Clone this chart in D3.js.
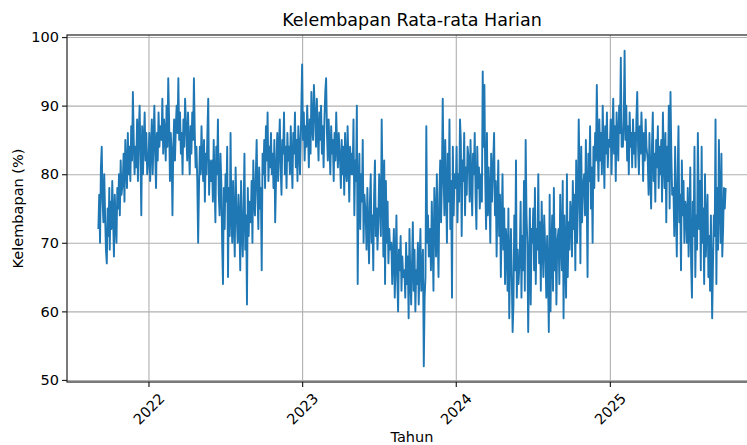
<!DOCTYPE html>
<html>
<head>
<meta charset="utf-8">
<script src="https://cdn.jsdelivr.net/npm/d3@7"></script>
<style>
body { margin: 0; background: #fff; }
svg text { font-family: "DejaVu Sans", sans-serif; fill: #000; }
</style>
</head>
<body>
<div id="chart"></div>
<script>
//-----------------------------Data
// daily humidity (%), one value every second day, one row per month
var h2021 = [
    [72, 77, 70, 81, 84, 76, 73, 80, 74, 69, 67, 75, 71, 78],          // Sep (from the 4th)
    [69, 76, 72, 79, 74, 68, 77, 73, 70, 78, 75, 80, 74, 82, 77],
    [79, 83, 76, 85, 81, 78, 86, 80, 84, 79, 87, 82, 92, 85, 80],
    [84, 81, 88, 79, 86, 90, 83, 74, 87, 80, 85, 89, 82, 86, 80]
];
var h2022 = [
    [82, 86, 79, 84, 88, 80, 85, 90, 83, 78, 86, 82, 89, 84, 87],
    [85, 91, 83, 88, 86, 82, 90, 84, 94, 88, 79, 86, 83, 74],
    [84, 88, 82, 87, 90, 86, 94, 85, 89, 83, 86, 80, 88, 84, 91],
    [86, 82, 89, 84, 80, 87, 83, 89, 85, 94, 86, 81, 84, 79, 70],
    [78, 84, 80, 87, 82, 79, 85, 76, 83, 80, 86, 91, 77, 82, 79],
    [82, 76, 85, 79, 73, 84, 80, 88, 77, 74, 83, 79, 70, 64, 78],
    [72, 80, 76, 84, 65, 78, 71, 86, 74, 70, 79, 73, 68, 81, 75],
    [70, 77, 73, 66, 79, 72, 68, 75, 83, 69, 74, 61, 78, 71, 76],
    [73, 79, 70, 82, 76, 74, 80, 85, 77, 72, 81, 75, 78, 66, 83],
    [80, 85, 78, 87, 82, 89, 79, 84, 81, 86, 80, 83, 78, 85, 73],
    [82, 86, 79, 84, 88, 81, 77, 85, 83, 89, 80, 84, 78, 86, 82],
    [84, 80, 87, 82, 78, 86, 83, 89, 81, 85, 79, 87, 84, 80, 86]
];
var h2023 = [
    [96, 85, 89, 82, 87, 84, 90, 86, 81, 88, 83, 92, 87, 85, 93],
    [88, 84, 91, 86, 82, 89, 85, 90, 83, 87, 81, 88, 92, 94],
    [86, 82, 88, 84, 80, 87, 83, 85, 79, 86, 82, 89, 84, 81, 86],
    [82, 78, 85, 80, 84, 77, 86, 81, 79, 87, 82, 76, 84, 80, 83],
    [80, 88, 74, 82, 79, 90, 64, 78, 83, 72, 80, 76, 85, 70, 77],
    [74, 69, 78, 72, 67, 76, 80, 70, 74, 66, 77, 82, 71, 75, 69],
    [73, 80, 76, 71, 88, 78, 68, 82, 64, 79, 70, 76, 67, 72, 69],
    [70, 64, 68, 72, 62, 67, 74, 65, 60, 69, 66, 71, 63, 68, 65],
    [66, 62, 70, 64, 68, 59, 72, 65, 61, 67, 73, 63, 69, 60, 66],
    [64, 70, 61, 67, 72, 63, 66, 69, 52, 62, 65, 87, 70, 74, 68],
    [72, 66, 76, 70, 63, 78, 74, 68, 80, 71, 65, 77, 82, 73, 79],
    [91, 80, 74, 85, 78, 70, 83, 76, 88, 72, 79, 62, 84, 74, 80]
];
var h2024 = [
    [78, 84, 73, 80, 76, 88, 85, 71, 82, 79, 86, 74, 81, 77, 84],
    [82, 76, 85, 79, 74, 83, 80, 86, 77, 72, 84, 78, 81, 75],
    [80, 76, 95, 84, 93, 79, 72, 86, 74, 81, 77, 70, 83, 76, 80],
    [86, 74, 79, 68, 76, 82, 71, 77, 65, 73, 80, 69, 75, 64, 72],
    [70, 63, 75, 59, 68, 72, 65, 57, 61, 74, 66, 82, 62, 69, 64],
    [68, 76, 62, 71, 66, 79, 63, 85, 74, 70, 57, 67, 75, 61, 72],
    [70, 75, 66, 78, 64, 72, 69, 80, 67, 73, 63, 76, 70, 65, 74],
    [68, 62, 71, 65, 57, 77, 60, 69, 74, 63, 78, 66, 72, 61, 70],
    [72, 64, 77, 70, 66, 79, 59, 74, 68, 62, 80, 65, 73, 69, 76],
    [74, 68, 79, 72, 77, 66, 82, 70, 75, 88, 80, 67, 84, 73, 78],
    [80, 74, 85, 77, 65, 83, 79, 87, 75, 81, 70, 84, 78, 86, 82],
    [93, 84, 79, 88, 82, 86, 80, 90, 84, 78, 87, 83, 89, 81, 85]
];
var h2025 = [
    [84, 88, 80, 86, 91, 83, 87, 79, 89, 85, 82, 90, 86, 97, 84],
    [84, 88, 98, 85, 90, 82, 87, 80, 89, 84, 86, 81, 88, 83],
    [86, 81, 88, 92, 84, 80, 87, 83, 89, 85, 79, 86, 82, 88, 84],
    [82, 77, 86, 80, 75, 84, 89, 79, 83, 76, 85, 81, 87, 78, 84],
    [80, 85, 76, 89, 82, 78, 86, 73, 84, 79, 90, 75, 92, 83, 77],
    [78, 71, 84, 75, 68, 80, 87, 73, 77, 66, 82, 74, 79, 70, 76],
    [75, 70, 78, 68, 73, 81, 67, 62, 76, 71, 84, 65, 74, 69, 86],
    [72, 79, 66, 84, 70, 75, 64, 80, 68, 73, 77, 65, 71, 63, 74],
    [59, 67, 74, 71, 88, 64, 78, 69, 85, 76, 70, 83, 68, 72, 78],
    [75, 78]                                                           // Oct (1st, 3rd)
];
var years = [2021, 2022, 2023, 2024, 2025];
var yearRows = [h2021, h2022, h2023, h2024, h2025];
var yTicks = [50, 60, 70, 80, 90, 100];
var xTickYears = [2022, 2023, 2024, 2025];

//-----------------------------Build points
var data = [];
yearRows.forEach(function(rows, yi) {
    var m0 = yi == 0 ? 8 : 0;
    rows.forEach(function(row, k) {
        var d0 = (yi == 0 && k == 0) ? 4 : 1;
        row.forEach(function(v, i) {
            data.push({ date: new Date(years[yi], m0 + k, d0 + 2 * i), value: v });
        });
    });
});

//-----------------------------Chart
var w = 747;
var h = 445;
var padL = 67, padT = 35, padR = 757, padB = 382;

var svg = d3.select("#chart")
    .append("svg")
    .attr("width", w)
    .attr("height", h);

// matplotlib style 5% margin on the time range
var ext = d3.extent(data, function(d) { return d.date; });
var pad = (ext[1] - ext[0]) * 0.05;
var x = d3.scaleTime()
    .domain([new Date(+ext[0] - pad), new Date(+ext[1] + pad)])
    .range([padL, padR]);
var y = d3.scaleLinear()
    .domain([49.7, 100.3])
    .range([padB, padT]);

var tickDates = xTickYears.map(function(yr) { return new Date(yr, 0, 1); });

// grid
svg.append("g")
    .attr("class", "grid")
    .attr("transform", "translate(0," + padB + ")")
    .call(d3.axisBottom(x).tickValues(tickDates).tickSize(-(padB - padT)).tickFormat(""));
svg.append("g")
    .attr("class", "grid")
    .attr("transform", "translate(" + padL + ",0)")
    .call(d3.axisLeft(y).tickValues(yTicks).tickSize(-(padR - padL)).tickFormat(""));
svg.selectAll(".grid .domain").remove();
svg.selectAll(".grid line")
    .attr("stroke", "#b0b0b0")
    .attr("stroke-width", 1.1);

// line
var line = d3.line()
    .x(function(d) { return x(d.date); })
    .y(function(d) { return y(d.value); });

svg.append("path")
    .datum(data)
    .attr("fill", "none")
    .attr("stroke", "#1f77b4")
    .attr("stroke-width", 1.9)
    .attr("stroke-linejoin", "round")
    .attr("d", line);

// frame
svg.append("rect")
    .attr("x", padL)
    .attr("y", padT)
    .attr("width", padR - padL)
    .attr("height", padB - padT)
    .attr("fill", "none")
    .attr("stroke", "#222")
    .attr("stroke-width", 1.2);

// axes
var yAxis = svg.append("g")
    .attr("transform", "translate(" + padL + ",0)")
    .call(d3.axisLeft(y).tickValues(yTicks).tickSize(5).tickPadding(3));
var xAxis = svg.append("g")
    .attr("transform", "translate(0," + padB + ")")
    .call(d3.axisBottom(x).tickValues(tickDates).tickSize(5).tickFormat(d3.timeFormat("%Y")));

svg.selectAll(".domain").remove();
yAxis.selectAll("line").attr("stroke", "#222").attr("stroke-width", 1.2);
xAxis.selectAll("line").attr("stroke", "#222").attr("stroke-width", 1.2);
yAxis.selectAll("text")
    .attr("font-size", "14.5px")
    .attr("font-family", "DejaVu Sans");
xAxis.selectAll("text")
    .attr("font-size", "14.5px")
    .attr("font-family", "DejaVu Sans")
    .attr("x", 0)
    .attr("y", 0)
    .attr("dy", null)
    .attr("text-anchor", "middle")
    .attr("dominant-baseline", "central")
    .attr("transform", "translate(0,27) rotate(-45)");

// labels
svg.append("text")
    .attr("x", (padL + padR) / 2)
    .attr("y", 26)
    .attr("text-anchor", "middle")
    .attr("font-size", "17.5px")
    .text("Kelembapan Rata-rata Harian");

svg.append("text")
    .attr("x", (padL + padR) / 2)
    .attr("y", 442)
    .attr("text-anchor", "middle")
    .attr("font-size", "14.5px")
    .text("Tahun");

svg.append("text")
    .attr("transform", "translate(23," + (padT + padB) / 2 + ") rotate(-90)")
    .attr("text-anchor", "middle")
    .attr("font-size", "14.5px")
    .text("Kelembapan (%)");
</script>
</body>
</html>
